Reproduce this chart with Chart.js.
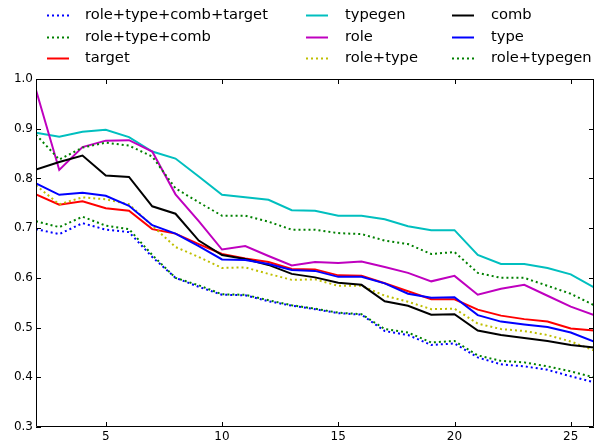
<!DOCTYPE html>
<html>
<head>
<meta charset="utf-8">
<script src="https://cdn.jsdelivr.net/npm/chart.js@4.4.0/dist/chart.umd.min.js"></script>
<style>
    html, body { margin: 0; padding: 0; background: #fff; }
    #wrap { position: relative; width: 599px; height: 446px; }
</style>
</head>
<body>
<div id="wrap"><canvas id="chart"></canvas></div>
<script>
// x values (number of steps) and tick labels
var steps = [2, 3, 4, 5, 6, 7, 8, 9, 10, 11, 12, 13, 14, 15, 16, 17, 18, 19, 20, 21, 22, 23, 24, 25, 26];
var xTicks = [5, 10, 15, 20, 25];
var yTicks = [0.3, 0.4, 0.5, 0.6, 0.7, 0.8, 0.9, 1.0];

// series values
var roleTypeCombTarget = [0.698, 0.688, 0.710, 0.697, 0.692, 0.642, 0.600, 0.582, 0.566, 0.565, 0.553, 0.544, 0.537, 0.529, 0.526, 0.493, 0.485, 0.465, 0.468, 0.440, 0.426, 0.422, 0.415, 0.402, 0.390];
var roleTypeComb = [0.714, 0.702, 0.723, 0.705, 0.698, 0.646, 0.600, 0.585, 0.567, 0.566, 0.555, 0.545, 0.538, 0.530, 0.527, 0.497, 0.490, 0.470, 0.473, 0.444, 0.433, 0.430, 0.422, 0.412, 0.400];
var target = [0.768, 0.747, 0.754, 0.740, 0.735, 0.698, 0.689, 0.668, 0.648, 0.639, 0.632, 0.618, 0.617, 0.605, 0.604, 0.589, 0.573, 0.557, 0.557, 0.536, 0.524, 0.517, 0.512, 0.498, 0.494];
var typegen = [0.892, 0.884, 0.894, 0.898, 0.883, 0.854, 0.840, 0.804, 0.767, 0.762, 0.757, 0.736, 0.735, 0.725, 0.725, 0.718, 0.704, 0.696, 0.696, 0.646, 0.628, 0.628, 0.620, 0.607, 0.581];
var role = [0.978, 0.817, 0.863, 0.876, 0.877, 0.854, 0.768, 0.714, 0.657, 0.664, 0.644, 0.625, 0.632, 0.630, 0.633, 0.622, 0.610, 0.593, 0.604, 0.566, 0.578, 0.586, 0.564, 0.542, 0.525];
var roleType = [0.786, 0.748, 0.762, 0.758, 0.748, 0.705, 0.662, 0.642, 0.620, 0.621, 0.608, 0.596, 0.597, 0.584, 0.584, 0.564, 0.552, 0.537, 0.538, 0.508, 0.497, 0.493, 0.485, 0.472, 0.454];
var comb = [0.818, 0.833, 0.846, 0.806, 0.803, 0.744, 0.729, 0.675, 0.646, 0.638, 0.626, 0.608, 0.601, 0.590, 0.586, 0.553, 0.544, 0.526, 0.527, 0.494, 0.485, 0.479, 0.473, 0.465, 0.460];
var type = [0.790, 0.767, 0.771, 0.765, 0.745, 0.706, 0.689, 0.664, 0.637, 0.636, 0.628, 0.616, 0.614, 0.602, 0.602, 0.589, 0.568, 0.560, 0.561, 0.525, 0.512, 0.506, 0.501, 0.490, 0.472];
var roleTypegen = [0.888, 0.838, 0.862, 0.872, 0.866, 0.844, 0.780, 0.752, 0.725, 0.725, 0.713, 0.697, 0.697, 0.690, 0.688, 0.675, 0.668, 0.648, 0.652, 0.610, 0.600, 0.600, 0.584, 0.568, 0.545];

var seriesNames = ['role+type+comb+target', 'role+type+comb', 'target', 'typegen', 'role', 'role+type', 'comb', 'type', 'role+typegen'];
var seriesValues = [roleTypeCombTarget, roleTypeComb, target, typegen, role, roleType, comb, type, roleTypegen];
var seriesColors = ['#0000ff', '#008000', '#ff0000', '#00bfbf', '#bf00bf', '#bfbf00', '#000000', '#0000ff', '#008000'];
var seriesDotted = [true, true, false, false, false, true, false, false, true];

var FONT = "'DejaVu Sans', 'Liberation Sans', sans-serif";

function toPoints(values) {
    return steps.map(function(s, i) { return { x: s, y: values[i] }; });
}

var datasets = seriesNames.map(function(name, i) {
    return {
        label: name,
        data: toPoints(seriesValues[i]),
        borderColor: seriesColors[i],
        backgroundColor: seriesColors[i],
        borderWidth: 2,
        borderDash: seriesDotted[i] ? [2, 3] : [],
        borderCapStyle: 'butt',
        pointRadius: 0,
        tension: 0,
        fill: false,
        // later series drawn on top, like matplotlib
        order: seriesNames.length - i
    };
});

// box round the plot with inward ticks on all four sides
var boxPlugin = {
    id: 'axesBox',
    afterDraw: function(chart) {
        var ctx = chart.ctx, a = chart.chartArea;
        var xs = chart.scales.x, ys = chart.scales.y;
        var len = 5;
        ctx.save();
        ctx.strokeStyle = '#000';
        ctx.lineWidth = 1;
        ctx.setLineDash([]);
        ctx.beginPath();
        ctx.rect(a.left + 0.5, a.top + 0.5, a.right - a.left - 1, a.bottom - a.top - 1);
        xs.ticks.forEach(function(t) {
            var px = Math.round(xs.getPixelForValue(t.value)) + 0.5;
            ctx.moveTo(px, a.bottom); ctx.lineTo(px, a.bottom - len);
            ctx.moveTo(px, a.top); ctx.lineTo(px, a.top + len);
        });
        ys.ticks.forEach(function(t) {
            var py = Math.round(ys.getPixelForValue(t.value)) + 0.5;
            ctx.moveTo(a.left, py); ctx.lineTo(a.left + len, py);
            ctx.moveTo(a.right, py); ctx.lineTo(a.right - len, py);
        });
        ctx.stroke();
        ctx.restore();
    }
};

// three-column legend, filled column by column
var legendPlugin = {
    id: 'colLegend',
    afterDraw: function(chart) {
        var ctx = chart.ctx;
        var cols = [{ line: 47, text: 85 }, { line: 306, text: 345 }, { line: 452, text: 491 }];
        var rows = [15, 37, 58];
        ctx.save();
        ctx.font = '14.7px ' + FONT;
        ctx.textBaseline = 'middle';
        ctx.textAlign = 'left';
        chart.data.datasets.forEach(function(ds, i) {
            var c = cols[Math.floor(i / 3)], y = rows[i % 3];
            ctx.beginPath();
            ctx.strokeStyle = ds.borderColor;
            ctx.lineWidth = 2;
            ctx.lineCap = 'butt';
            ctx.setLineDash(ds.borderDash);
            ctx.moveTo(c.line, y + 0.5);
            ctx.lineTo(c.line + 22, y + 0.5);
            ctx.stroke();
            ctx.fillStyle = '#000';
            ctx.fillText(ds.label, c.text, y);
        });
        ctx.restore();
    }
};

new Chart(document.getElementById('chart'), {
    type: 'line',
    data: { datasets: datasets },
    options: {
        responsive: true,
        maintainAspectRatio: false,
        animation: false,
        devicePixelRatio: 1,
        layout: { padding: { top: 79, right: 5, left: 0, bottom: 0 } },
        plugins: {
            legend: { display: false },
            tooltip: { enabled: false }
        },
        scales: {
            x: {
                type: 'linear',
                min: 2,
                max: 26,
                grid: { display: false, drawTicks: false },
                border: { display: false },
                afterBuildTicks: function(scale) {
                    scale.ticks = xTicks.map(function(v) { return { value: v }; });
                },
                afterFit: function(scale) { scale.height = 19; },
                ticks: {
                    color: '#000',
                    padding: 3,
                    maxRotation: 0,
                    font: { family: FONT, size: 12 },
                    callback: function(v) { return String(v); }
                }
            },
            y: {
                min: 0.3,
                max: 1.0,
                grid: { display: false, drawTicks: false },
                border: { display: false },
                afterBuildTicks: function(scale) {
                    scale.ticks = yTicks.map(function(v) { return { value: v }; });
                },
                afterFit: function(scale) { scale.width = 36; },
                ticks: {
                    color: '#000',
                    padding: 3,
                    font: { family: FONT, size: 12 },
                    callback: function(v) { return v.toFixed(1); }
                }
            }
        }
    },
    plugins: [boxPlugin, legendPlugin]
});
</script>
</body>
</html>
